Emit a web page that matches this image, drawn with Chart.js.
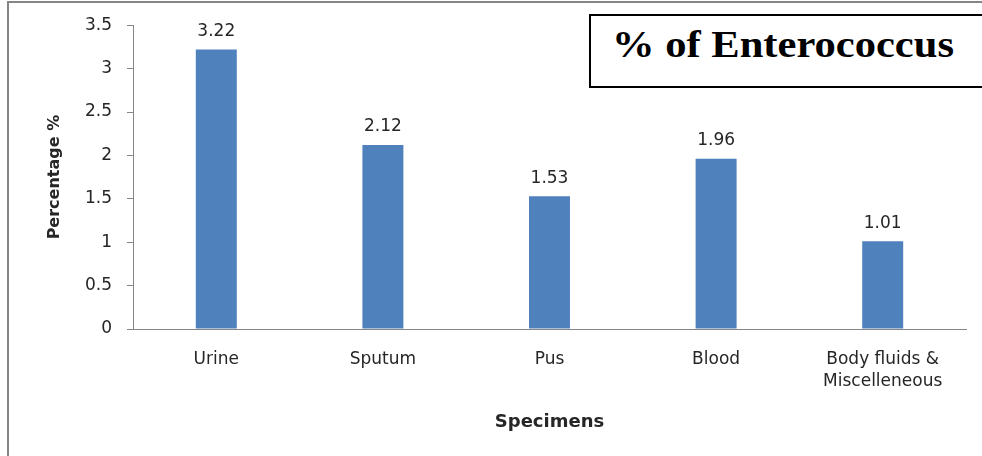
<!DOCTYPE html>
<html>
<head>
<meta charset="utf-8">
<title>% of Enterococcus</title>
<script src="https://cdn.jsdelivr.net/npm/chart.js@4/dist/chart.umd.min.js"></script>
<style>
  html, body { margin: 0; padding: 0; background: #fff; overflow: hidden; }
  #wrap { position: relative; width: 982px; height: 456px; overflow: hidden; }
  #chart { position: absolute; left: 0; top: 0; }
  #frame { position: absolute; left: 7px; top: 1px; width: 1000px; height: 520px; border: 2px solid #858585; pointer-events: none; }
  #titleBox { position: absolute; left: 589px; top: 14px; width: 420px; height: 70px; border: 2px solid #000; background: #fff; }
  #titleText { position: absolute; left: 612px; top: 25px; font: bold 38px "Liberation Serif", "Times New Roman", serif;
               line-height: 38px; white-space: nowrap; color: #000; transform: scaleX(1.12); transform-origin: left top; }
</style>
</head>
<body>
<div id="wrap">
  <canvas id="chart" width="982" height="456"></canvas>
  <div id="frame"></div>
  <div id="titleBox"></div>
  <div id="titleText">% of Enterococcus</div>
</div>
<script>
// ---- données ----
const categories = ['Urine', 'Sputum', 'Pus', 'Blood', ['Body fluids &', 'Miscelleneous']];
const percentValues = [3.22, 2.12, 1.53, 1.96, 1.01];
const yTicks = [0, 0.5, 1, 1.5, 2, 2.5, 3, 3.5];

const axisColor = '#868686';
const textColor = '#262626';

// valeurs au-dessus des barres
const valueLabels = {
  id: 'valueLabels',
  afterDatasetsDraw(chart) {
    const ctx = chart.ctx;
    const meta = chart.getDatasetMeta(0);
    ctx.save();
    ctx.font = '17px "DejaVu Sans"';
    ctx.fillStyle = textColor;
    ctx.textAlign = 'center';
    ctx.textBaseline = 'middle';
    meta.data.forEach((bar, i) => ctx.fillText(percentValues[i].toFixed(2), bar.x, bar.y - 18));
    ctx.restore();
  }
};

new Chart(document.getElementById('chart'), {
  type: 'bar',
  data: {
    labels: categories,
    datasets: [{
      label: '% of Enterococcus',
      data: percentValues,
      backgroundColor: '#4F81BD',
      borderWidth: 0,
      categoryPercentage: 1,
      barPercentage: 0.246
    }]
  },
  options: {
    responsive: false,
    devicePixelRatio: 1,
    animation: false,
    layout: { padding: { left: 0, right: 16, top: 24, bottom: 0 } },
    plugins: { legend: { display: false }, tooltip: { enabled: false } },
    scales: {
      x: {
        grid: { display: false, drawTicks: false },
        border: { display: true, color: axisColor, width: 1 },
        ticks: { color: textColor, padding: 20, maxRotation: 0, autoSkip: false,
                 font: { family: 'DejaVu Sans', size: 17, lineHeight: 1.26 } },
        title: { display: true, text: 'Specimens', color: textColor,
                 font: { family: 'DejaVu Sans', size: 18, weight: 'bold', lineHeight: 1.2 },
                 padding: { top: 0, bottom: 23 } },
        afterFit: s => { s.height = 127; }
      },
      y: {
        min: 0, max: 3.5,
        afterBuildTicks: s => { s.ticks = yTicks.map(v => ({ value: v })); },
        grid: { display: true, drawOnChartArea: false, drawTicks: true, tickLength: 6, color: axisColor },
        border: { display: true, color: axisColor, width: 1 },
        ticks: { color: textColor, padding: 15, callback: v => String(v),
                 font: { family: 'DejaVu Sans', size: 17 } },
        title: { display: true, text: 'Percentage %', color: textColor,
                 font: { family: 'DejaVu Sans', size: 16, weight: 'bold', lineHeight: 1.2 },
                 padding: { top: 45, bottom: 0 } },
        afterFit: s => { s.width = 133; }
      }
    }
  },
  plugins: [valueLabels]
});
</script>
</body>
</html>
